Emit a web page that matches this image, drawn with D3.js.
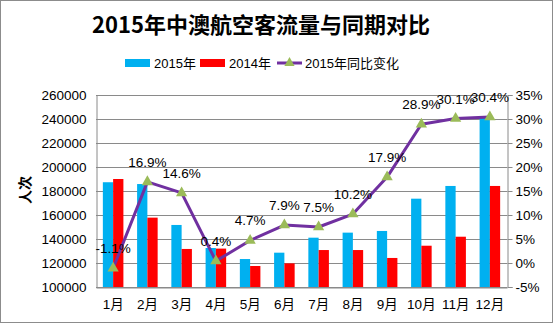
<!DOCTYPE html>
<html><head><meta charset="utf-8">
<script src="https://cdn.jsdelivr.net/npm/d3@7"></script>
<style>
html,body{margin:0;padding:0;background:#fff;}
text{font-family:"Liberation Sans","Noto Sans CJK SC",sans-serif;}
</style></head>
<body><svg id="c" width="553" height="324"></svg>
<script>
const months = ["1月","2月","3月","4月","5月","6月","7月","8月","9月","10月","11月","12月"];
const pax2015 = [187300,185800,151700,132500,123300,128600,141100,145300,146700,173600,184200,241400];
const pax2014 = [190000,157800,131700,132000,117500,119700,130800,130800,124200,134400,141900,184200];
const yoy = [-1.1,16.9,14.6,0.4,4.7,7.9,7.5,10.2,17.9,28.9,30.1,30.4];
const leftTicks = [100000,120000,140000,160000,180000,200000,220000,240000,260000];
const rightTicks = [-5,0,5,10,15,20,25,30,35];
const seriesNames = ["2015年","2014年","2015年同比变化"];
const title = "2015年中澳航空客流量与同期对比";
const yTitle = "人次";

const svg = d3.select("#c");
const L = 96, R = 507, T = 95, B = 287;
const cBlue = "#00B0F0", cRed = "#FF0000", cLine = "#7030A0", cMark = "#9BBB59";

svg.append("rect").attr("x",0.5).attr("y",0.5).attr("width",552).attr("height",322)
  .attr("fill","#fff").attr("stroke","#8c8c8c");

const x = d3.scaleBand().domain(months).range([L,R]).paddingInner(0.4).paddingOuter(0.2);
const yL = d3.scaleLinear().domain([100000,260000]).range([B,T]);
const yR = d3.scaleLinear().domain([-5,35]).range([B,T]);

// gridlines
svg.append("g").selectAll("line").data(leftTicks).join("line")
  .attr("x1",L).attr("x2",R).attr("y1",d=>yL(d)+0.5).attr("y2",d=>yL(d)+0.5)
  .attr("stroke","#8a8a8a").attr("stroke-width",1);

// left axis
const gl = svg.append("g").attr("transform",`translate(${L+0.5},0)`)
  .call(d3.axisLeft(yL).tickValues(leftTicks).tickFormat(d3.format("d")).tickSize(0).tickPadding(10));
gl.select(".domain").attr("stroke","#8a8a8a");
gl.selectAll("text").attr("font-size",13.5).attr("fill","#000");

// right axis
const gr = svg.append("g").attr("transform",`translate(${R+0.5},0)`)
  .call(d3.axisRight(yR).tickValues(rightTicks).tickFormat(d=>d+"%").tickSize(5).tickPadding(3));
gr.select(".domain").attr("stroke","#8a8a8a");
gr.selectAll(".tick line").attr("stroke","#8a8a8a");
gr.selectAll("text").attr("font-size",13.5).attr("fill","#000");

// bars
const bw = x.bandwidth()/2;
svg.append("g").selectAll("rect").data(months).join("rect")
  .attr("x",(d)=>x(d)).attr("width",bw)
  .attr("y",(d,i)=>yL(pax2015[i])).attr("height",(d,i)=>B-yL(pax2015[i]))
  .attr("fill",cBlue);
svg.append("g").selectAll("rect").data(months).join("rect")
  .attr("x",(d)=>x(d)+bw).attr("width",bw)
  .attr("y",(d,i)=>yL(pax2014[i])).attr("height",(d,i)=>B-yL(pax2014[i]))
  .attr("fill",cRed);

// bottom axis
const gb = svg.append("g").attr("transform",`translate(0,${B+0.5})`)
  .call(d3.axisBottom(x).tickSize(0).tickPadding(12));
gb.select(".domain").attr("stroke","#8a8a8a");
gb.selectAll("text").attr("font-size",13.5).attr("fill","#000");

// line
const cx = d => x(d)+x.bandwidth()/2;
const line = d3.line().x((d,i)=>cx(months[i])).y(d=>yR(d));
svg.append("path").datum(yoy).attr("d",line).attr("fill","none")
  .attr("stroke",cLine).attr("stroke-width",3).attr("stroke-linejoin","round");
svg.append("g").selectAll("path").data(yoy).join("path")
  .attr("d",d3.symbol(d3.symbolTriangle,55))
  .attr("transform",(d,i)=>`translate(${cx(months[i])},${yR(d)})`)
  .attr("fill",cMark);
svg.append("g").selectAll("text").data(yoy).join("text")
  .attr("x",(d,i)=>cx(months[i])).attr("y",d=>yR(d)-15)
  .attr("text-anchor","middle").attr("font-size",13.5).attr("fill","#000")
  .text(d=>d.toFixed(1)+"%");

// title
svg.append("text").attr("x",261).attr("y",33).attr("text-anchor","middle")
  .attr("font-size",22).attr("font-weight","bold").attr("fill","#000")
  .style("font-family","'Noto Sans CJK SC',sans-serif").text(title);

// y title
svg.append("text").attr("transform","translate(30,190) rotate(-90)")
  .attr("text-anchor","middle").attr("font-size",14).attr("font-weight","bold")
  .style("font-family","'Noto Sans CJK SC',sans-serif").text(yTitle);

// legend
const lg = svg.append("g");
lg.append("rect").attr("x",125).attr("y",59).attr("width",25).attr("height",8).attr("fill",cBlue);
lg.append("text").attr("x",154).attr("y",68).attr("font-size",13).text(seriesNames[0]);
lg.append("rect").attr("x",200).attr("y",59).attr("width",25).attr("height",8).attr("fill",cRed);
lg.append("text").attr("x",229).attr("y",68).attr("font-size",13).text(seriesNames[1]);
lg.append("line").attr("x1",277).attr("x2",302).attr("y1",63).attr("y2",63).attr("stroke",cLine).attr("stroke-width",3);
lg.append("path").attr("d",d3.symbol(d3.symbolTriangle,45)).attr("transform","translate(289.5,63)").attr("fill",cMark);
lg.append("text").attr("x",305).attr("y",68).attr("font-size",13).text(seriesNames[2]);
</script></body></html>
